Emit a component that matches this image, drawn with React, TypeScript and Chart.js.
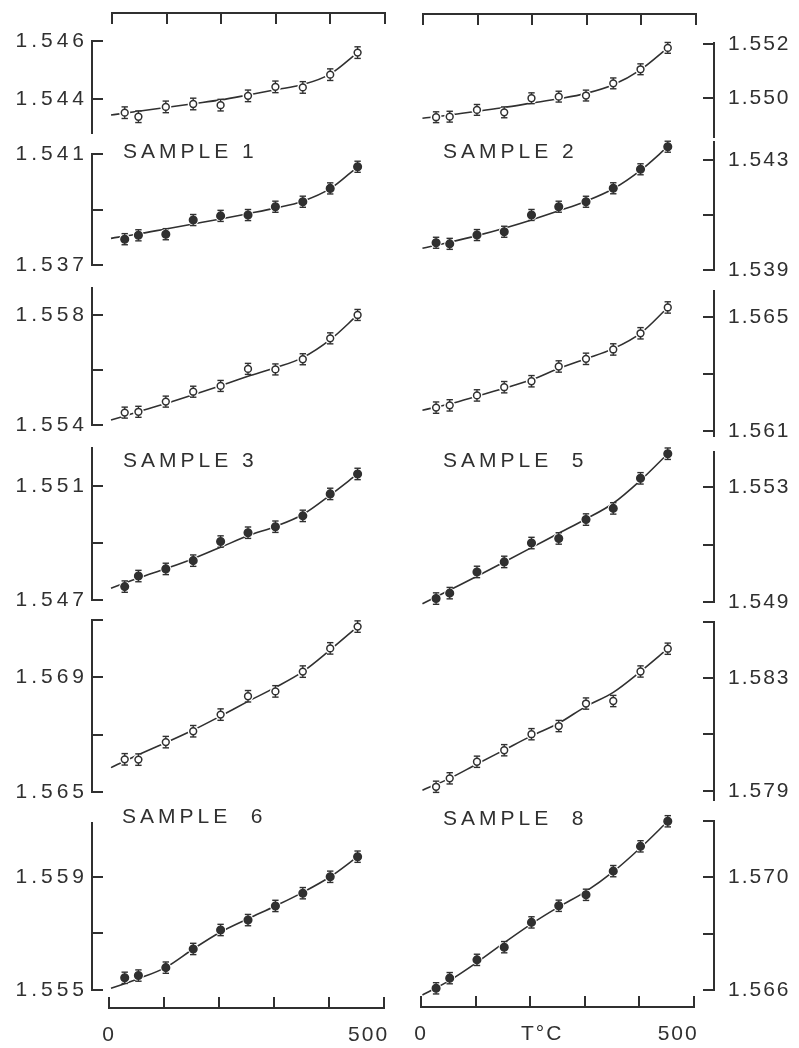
import React, { useEffect, useRef } from 'react';
import Chart from 'chart.js/auto';

const INK = '#303030';
const FONT_FAMILY = "'Liberation Sans', Arial, Helvetica, sans-serif";

// Temperatures (°C) of the measured points and of the read-off fitted curves
const TEMPS = [25, 50, 100, 150, 200, 250, 300, 350, 400, 450];
const FIT_TEMPS = [0, 50, 100, 150, 200, 250, 300, 350, 400, 450];
const X_TICKS = [0, 100, 200, 300, 400, 500];
const X_LABELS_LEFT = [{ value: 0, text: '0' }, { value: 472, text: '500' }];
const X_LABELS_RIGHT = [{ value: 0, text: '0' }, { value: 222, text: 'T°C' }, { value: 471, text: '500' }];

// Sample 1
const S1_OPEN = [1.54353, 1.54339, 1.54373, 1.54383, 1.54379, 1.54411, 1.54442, 1.5444, 1.54484, 1.5456];
const S1_OPEN_FIT = [1.54345, 1.54358, 1.54371, 1.54384, 1.54397, 1.54414, 1.54432, 1.5445, 1.54486, 1.5456];
const S1_OPEN_TICKS = [1.544, 1.546];
const S1_OPEN_LABELS = [1.544, 1.546];
const S1_FILLED = [1.53793, 1.53807, 1.53811, 1.53862, 1.53877, 1.5388, 1.5391, 1.53928, 1.53976, 1.54054];
const S1_FILLED_FIT = [1.53796, 1.53812, 1.5383, 1.53848, 1.53866, 1.53885, 1.53905, 1.5393, 1.53975, 1.54054];
const S1_FILLED_TICKS = [1.537, 1.539, 1.541];
const S1_FILLED_LABELS = [1.537, 1.541];

// Sample 2
const S2_OPEN = [1.5493, 1.54932, 1.54957, 1.54948, 1.55, 1.55006, 1.5501, 1.55055, 1.55107, 1.55186];
const S2_OPEN_FIT = [1.54926, 1.54938, 1.54952, 1.54966, 1.54982, 1.54998, 1.55018, 1.5505, 1.55105, 1.55186];
const S2_OPEN_TICKS = [1.55, 1.552];
const S2_OPEN_LABELS = [1.55, 1.552];
const S2_FILLED = [1.53999, 1.53995, 1.54027, 1.54039, 1.541, 1.5413, 1.54148, 1.54197, 1.54266, 1.54348];
const S2_FILLED_FIT = [1.53979, 1.54001, 1.54025, 1.54052, 1.54082, 1.54115, 1.5415, 1.54195, 1.54262, 1.54348];
const S2_FILLED_TICKS = [1.539, 1.541, 1.543];
const S2_FILLED_LABELS = [1.539, 1.543];

// Sample 3
const S3_OPEN = [1.55445, 1.55448, 1.55485, 1.55521, 1.55542, 1.55604, 1.55602, 1.55639, 1.55715, 1.558];
const S3_OPEN_FIT = [1.55418, 1.55448, 1.55478, 1.5551, 1.55543, 1.55577, 1.55608, 1.55645, 1.5571, 1.558];
const S3_OPEN_TICKS = [1.554, 1.556, 1.558];
const S3_OPEN_LABELS = [1.554, 1.558];
const S3_FILLED = [1.54747, 1.54784, 1.54809, 1.54838, 1.54905, 1.54936, 1.54957, 1.54995, 1.55072, 1.55142];
const S3_FILLED_FIT = [1.54741, 1.54777, 1.5481, 1.54845, 1.54885, 1.54925, 1.54958, 1.55, 1.55068, 1.55142];
const S3_FILLED_TICKS = [1.547, 1.549, 1.551];
const S3_FILLED_LABELS = [1.547, 1.551];

// Sample 5
const S5_OPEN = [1.56182, 1.5619, 1.56225, 1.56254, 1.56275, 1.56327, 1.56354, 1.56387, 1.56444, 1.56535];
const S5_OPEN_FIT = [1.56173, 1.56195, 1.56222, 1.5625, 1.5628, 1.5632, 1.56354, 1.5639, 1.56444, 1.56535];
const S5_OPEN_TICKS = [1.561, 1.563, 1.565];
const S5_OPEN_LABELS = [1.561, 1.565];
const S5_FILLED = [1.54912, 1.54931, 1.55005, 1.5504, 1.55106, 1.55122, 1.55188, 1.55227, 1.55332, 1.55418];
const S5_FILLED_FIT = [1.54894, 1.54942, 1.5499, 1.5504, 1.5509, 1.5514, 1.5519, 1.55245, 1.55325, 1.55418];
const S5_FILLED_TICKS = [1.549, 1.551, 1.553];
const S5_FILLED_LABELS = [1.549, 1.553];

// Sample 6
const S6_OPEN = [1.56614, 1.56613, 1.56674, 1.56712, 1.5677, 1.56834, 1.56851, 1.5692, 1.57001, 1.57077];
const S6_OPEN_FIT = [1.56585, 1.5663, 1.56672, 1.56716, 1.56765, 1.56816, 1.56865, 1.5692, 1.56996, 1.57077];
const S6_OPEN_TICKS = [1.565, 1.567, 1.569, 1.571];
const S6_OPEN_LABELS = [1.565, 1.569];
const S6_FILLED = [1.55543, 1.55551, 1.55579, 1.55645, 1.55712, 1.55747, 1.55797, 1.55842, 1.559, 1.55971];
const S6_FILLED_FIT = [1.55506, 1.5554, 1.5558, 1.55645, 1.55705, 1.55752, 1.55797, 1.55845, 1.559, 1.55971];
const S6_FILLED_TICKS = [1.555, 1.557, 1.559];
const S6_FILLED_LABELS = [1.555, 1.559];

// Sample 8
const S8_OPEN = [1.57914, 1.57944, 1.58003, 1.58044, 1.58101, 1.5813, 1.5821, 1.58219, 1.58324, 1.58405];
const S8_OPEN_FIT = [1.57902, 1.57944, 1.57995, 1.58045, 1.58095, 1.5814, 1.582, 1.5825, 1.58324, 1.58405];
const S8_OPEN_TICKS = [1.579, 1.581, 1.583, 1.585];
const S8_OPEN_LABELS = [1.579, 1.583];
const S8_FILLED = [1.56606, 1.56642, 1.56707, 1.56752, 1.5684, 1.56899, 1.56938, 1.57022, 1.5711, 1.57199];
const S8_FILLED_FIT = [1.56582, 1.56634, 1.56698, 1.56768, 1.56835, 1.56895, 1.5695, 1.5702, 1.57105, 1.57199];
const S8_FILLED_TICKS = [1.566, 1.568, 1.57, 1.572];
const S8_FILLED_LABELS = [1.566, 1.57];

const ERR = 0.0002;

type PanelDef = {
  col: 'L' | 'R';
  top: number;
  bottom: number;
  min: number;
  max: number;
  values: number[];
  fit: number[];
  ticks: number[];
  labels: number[];
  open: boolean;
  headPx?: number;
};

const PANELS: PanelDef[] = [
  { col: 'L', top: 41, bottom: 133, min: 1.54283, max: 1.546, values: S1_OPEN, fit: S1_OPEN_FIT, ticks: S1_OPEN_TICKS, labels: S1_OPEN_LABELS, open: true },
  { col: 'L', top: 154, bottom: 265, min: 1.537, max: 1.541, values: S1_FILLED, fit: S1_FILLED_FIT, ticks: S1_FILLED_TICKS, labels: S1_FILLED_LABELS, open: false },
  { col: 'R', top: 43, bottom: 137, min: 1.54857, max: 1.55204, values: S2_OPEN, fit: S2_OPEN_FIT, ticks: S2_OPEN_TICKS, labels: S2_OPEN_LABELS, open: true },
  { col: 'R', top: 158, bottom: 270, min: 1.539, max: 1.54307, values: S2_FILLED, fit: S2_FILLED_FIT, ticks: S2_FILLED_TICKS, labels: S2_FILLED_LABELS, open: false, headPx: 16 },
  { col: 'L', top: 288, bottom: 425, min: 1.554, max: 1.55898, values: S3_OPEN, fit: S3_OPEN_FIT, ticks: S3_OPEN_TICKS, labels: S3_OPEN_LABELS, open: true },
  { col: 'L', top: 448, bottom: 600, min: 1.547, max: 1.55233, values: S3_FILLED, fit: S3_FILLED_FIT, ticks: S3_FILLED_TICKS, labels: S3_FILLED_LABELS, open: false },
  { col: 'R', top: 291, bottom: 436, min: 1.56082, max: 1.56593, values: S5_OPEN, fit: S5_OPEN_FIT, ticks: S5_OPEN_TICKS, labels: S5_OPEN_LABELS, open: true },
  { col: 'R', top: 452, bottom: 602, min: 1.549, max: 1.55424, values: S5_FILLED, fit: S5_FILLED_FIT, ticks: S5_FILLED_TICKS, labels: S5_FILLED_LABELS, open: false },
  { col: 'L', top: 620, bottom: 792, min: 1.565, max: 1.571, values: S6_OPEN, fit: S6_OPEN_FIT, ticks: S6_OPEN_TICKS, labels: S6_OPEN_LABELS, open: true },
  { col: 'L', top: 823, bottom: 990, min: 1.555, max: 1.5609, values: S6_FILLED, fit: S6_FILLED_FIT, ticks: S6_FILLED_TICKS, labels: S6_FILLED_LABELS, open: false },
  { col: 'R', top: 622, bottom: 800, min: 1.57867, max: 1.585, values: S8_OPEN, fit: S8_OPEN_FIT, ticks: S8_OPEN_TICKS, labels: S8_OPEN_LABELS, open: true },
  { col: 'R', top: 821, bottom: 990, min: 1.566, max: 1.572, values: S8_FILLED, fit: S8_FILLED_FIT, ticks: S8_FILLED_TICKS, labels: S8_FILLED_LABELS, open: false },
];

const SAMPLE_TITLES = [
  { text: 'SAMPLE 1', left: 123, top: 140 },
  { text: 'SAMPLE 2', left: 443, top: 140 },
  { text: 'SAMPLE 3', left: 123, top: 449 },
  { text: 'SAMPLE\u00a0 5', left: 443, top: 449 },
  { text: 'SAMPLE\u00a0 6', left: 122, top: 805 },
  { text: 'SAMPLE\u00a0 8', left: 443, top: 807 },
];

const letterSpacingPlugin = {
  id: 'letterSpacing',
  beforeDraw(chart: any, _args: any, opts: any) {
    chart.ctx.letterSpacing = (opts && opts.value) || '0px';
  },
  afterDraw(chart: any) {
    chart.ctx.letterSpacing = '0px';
  },
};

const PAD_V = 16;

function Panel({ p }: { p: PanelDef }) {
  const ref = useRef<HTMLCanvasElement>(null);
  const left = p.col === 'L';
  const width = left ? 400 : 399;
  const headPx = p.headPx || 0;
  const pxPerUnit = (p.bottom - p.top) / (p.max - p.min);
  const yMax = p.max + headPx / pxPerUnit;
  const areaTop = p.top - headPx;
  const height = p.bottom - areaTop + 2 * PAD_V;

  useEffect(() => {
    const markers = TEMPS.map((t, i) => ({ x: t, y: p.values[i] }));
    const bars: any[] = [];
    TEMPS.forEach((t, i) => {
      bars.push({ x: t, y: p.values[i] - ERR }, { x: t, y: p.values[i] + ERR }, { x: t, y: null });
    });
    const fit = FIT_TEMPS.map((t, i) => ({ x: t, y: p.fit[i] }));
    const chart = new Chart(ref.current as HTMLCanvasElement, {
      type: 'line',
      data: {
        datasets: [
          {
            data: markers,
            showLine: false,
            pointStyle: 'circle',
            pointRadius: p.open ? 3.4 : 3.8,
            pointBackgroundColor: p.open ? '#ffffff' : INK,
            pointBorderColor: INK,
            pointBorderWidth: 1.5,
            clip: false,
          },
          {
            data: bars,
            showLine: true,
            spanGaps: false,
            borderColor: INK,
            borderWidth: 1.3,
            pointStyle: 'line',
            pointRadius: 3.2,
            pointBorderColor: INK,
            pointBorderWidth: 1.4,
            clip: false,
          },
          {
            data: markers,
            showLine: false,
            pointRadius: 5.5,
            pointBackgroundColor: '#ffffff',
            pointBorderColor: '#ffffff',
            pointBorderWidth: 0,
            clip: false,
          },
          {
            data: fit,
            showLine: true,
            borderColor: INK,
            borderWidth: 1.6,
            pointRadius: 0,
            cubicInterpolationMode: 'monotone',
            fill: false,
            clip: false,
          },
        ] as any,
      },
      options: {
        responsive: false,
        animation: false,
        devicePixelRatio: 1,
        events: [],
        layout: {
          padding: left
            ? { top: PAD_V, bottom: PAD_V, left: 0, right: 15 }
            : { top: PAD_V, bottom: PAD_V, left: 5, right: 0 },
        },
        plugins: {
          legend: { display: false },
          tooltip: { enabled: false },
          letterSpacing: { value: left ? '4px' : '2px' },
        } as any,
        scales: {
          x: {
            type: 'linear',
            display: false,
            min: left ? -34.7 : -31.1,
            max: left ? 500 : 534.8,
          },
          y: {
            type: 'linear',
            position: left ? 'left' : 'right',
            min: p.min,
            max: yMax,
            afterFit: (s: any) => {
              s.width = left ? 92 : 85;
              s.paddingTop = 0;
              s.paddingBottom = 0;
            },
            afterBuildTicks: (s: any) => {
              s.ticks = p.ticks.map((v) => ({ value: v }));
            },
            grid: {
              drawOnChartArea: false,
              drawTicks: true,
              tickLength: -11,
              tickColor: INK,
              tickWidth: 2,
              lineWidth: 2,
              color: INK,
            },
            border: {
              display: true,
              color: INK,
              width: 2,
              dash: headPx > 0 ? [0, headPx, 100000] : [],
            },
            ticks: {
              autoSkip: false,
              color: INK,
              font: { family: FONT_FAMILY, size: 21 },
              padding: left ? 15 : 25,
              callback: (v: any) =>
                p.labels.some((l) => Math.abs(l - Number(v)) < 1e-7) ? Number(v).toFixed(3) : '',
            },
          },
        } as any,
      },
      plugins: [letterSpacingPlugin as any],
    });
    return () => chart.destroy();
  }, [p]);

  return (
    <canvas
      ref={ref}
      width={width}
      height={height}
      style={{ position: 'absolute', left: left ? 0 : 400, top: areaTop - PAD_V, width, height }}
    />
  );
}

type AxisDef = {
  where: 'top' | 'bottom';
  line: number;
  start: number;
  end: number;
  labels: { value: number; text: string }[];
};

const X_AXES: AxisDef[] = [
  { where: 'top', line: 13, start: 112, end: 385, labels: [] },
  { where: 'top', line: 14, start: 423, end: 696, labels: [] },
  { where: 'bottom', line: 1008, start: 109, end: 384, labels: X_LABELS_LEFT },
  { where: 'bottom', line: 1007, start: 421, end: 694, labels: X_LABELS_RIGHT },
];

const TICK_LEN = 11;

function XAxis({ a }: { a: AxisDef }) {
  const ref = useRef<HTMLCanvasElement>(null);
  const top = a.where === 'top';
  const width = a.end - a.start + 20;
  const height = top ? a.line + TICK_LEN + 6 : 6 + TICK_LEN + 40;
  const canvasTop = top ? 0 : a.line - TICK_LEN - 6;

  useEffect(() => {
    const tickValues = Array.from(new Set([...X_TICKS, ...a.labels.map((l) => l.value)])).sort((m, n) => m - n);
    const chart = new Chart(ref.current as HTMLCanvasElement, {
      type: 'line',
      data: { datasets: [] },
      options: {
        responsive: false,
        animation: false,
        devicePixelRatio: 1,
        events: [],
        layout: {
          padding: top
            ? { top: 0, bottom: 6, left: 10, right: 10 }
            : { top: 6, bottom: 0, left: 10, right: 10 },
        },
        plugins: {
          legend: { display: false },
          tooltip: { enabled: false },
          letterSpacing: { value: '2px' },
        } as any,
        scales: {
          x: {
            type: 'linear',
            position: top ? 'top' : 'bottom',
            min: 0,
            max: 500,
            afterFit: (s: any) => {
              s.height = top ? a.line : 40;
              s.paddingLeft = 0;
              s.paddingRight = 0;
            },
            afterBuildTicks: (s: any) => {
              s.ticks = tickValues.map((v) => ({ value: v }));
            },
            grid: {
              drawOnChartArea: true,
              drawTicks: false,
              lineWidth: 2,
              color: (ctx: any) =>
                ctx.tick && X_TICKS.includes(ctx.tick.value) ? INK : 'rgba(0,0,0,0)',
            },
            border: { display: true, color: INK, width: 2 },
            ticks: {
              display: !top,
              autoSkip: false,
              maxRotation: 0,
              color: INK,
              padding: 15,
              font: { family: FONT_FAMILY, size: 21 },
              callback: (v: any) => {
                const hit = a.labels.find((l) => l.value === Number(v));
                return hit ? hit.text : '';
              },
            },
          },
          y: { display: false, min: 0, max: 1 },
        } as any,
      },
      plugins: [letterSpacingPlugin as any],
    });
    return () => chart.destroy();
  }, [a]);

  return (
    <canvas
      ref={ref}
      width={width}
      height={height}
      style={{ position: 'absolute', left: a.start - 10, top: canvasTop, width, height }}
    />
  );
}

export default function App() {
  return (
    <div
      style={{
        position: 'absolute',
        left: 0,
        top: 0,
        width: 799,
        height: 1048,
        background: '#ffffff',
        overflow: 'hidden',
      }}
    >
      {PANELS.map((p, i) => (
        <Panel key={i} p={p} />
      ))}
      {X_AXES.map((a, i) => (
        <XAxis key={'x' + i} a={a} />
      ))}
      {SAMPLE_TITLES.map((s, i) => (
        <div
          key={'s' + i}
          style={{
            position: 'absolute',
            left: s.left,
            top: s.top,
            fontFamily: FONT_FAMILY,
            fontSize: 21,
            lineHeight: 1,
            letterSpacing: '4px',
            color: INK,
            whiteSpace: 'pre',
          }}
        >
          {s.text}
        </div>
      ))}
    </div>
  );
}
